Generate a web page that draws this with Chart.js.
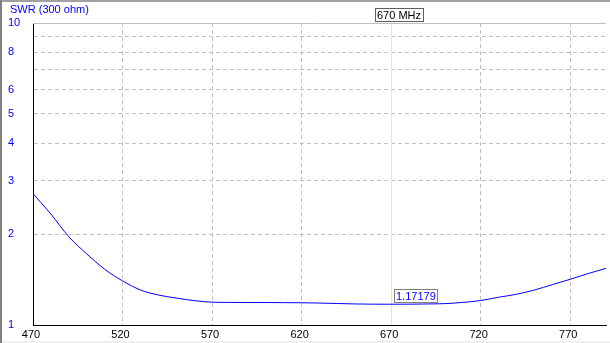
<!DOCTYPE html>
<html>
<head>
<meta charset="utf-8">
<script src="https://cdn.jsdelivr.net/npm/chart.js@4.4.0/dist/chart.umd.min.js"></script>
<style>
    html, body { margin: 0; padding: 0; background: #fff; }
    canvas { display: block; }
</style>
</head>
<body>
<canvas id="swrChart" width="610" height="343"></canvas>
<script>
// frequency sweep (MHz) and measured SWR
const freqs = [470, 480, 490, 500, 510, 520, 530, 540, 550, 560, 570, 580, 590, 600, 610, 620,
    630, 640, 650, 660, 670, 680, 690, 700, 710, 720, 730, 740, 750, 760, 770, 780, 790];
const swr = [2.72, 2.33, 1.96, 1.72, 1.53, 1.40, 1.306, 1.257, 1.228, 1.204, 1.190, 1.188, 1.187, 1.187, 1.186, 1.185,
    1.182, 1.178, 1.174, 1.172, 1.1718, 1.172, 1.174, 1.177, 1.188, 1.205, 1.236, 1.264, 1.306, 1.36, 1.417, 1.48, 1.54];

const xTicks = [470, 520, 570, 620, 670, 720, 770];
const yGrid = [1, 2, 3, 4, 5, 6, 7, 8, 9, 10];
const yLabels = [1, 2, 3, 4, 5, 6, 8, 10];

const markerFreq = 670;
const markerSwr = 1.17179;
const markerFreqText = '670 MHz';
const markerSwrText = '1.17179';
const titleText = 'SWR (300 ohm)';

const FONT = '11px "Liberation Sans", Arial, sans-serif';

// frame, title and marker drawn on top of the library scales
const framePlugin = {
    id: 'frame',
    beforeDraw(chart) {
        const { ctx, width, height } = chart;
        ctx.save();
        ctx.fillStyle = '#ffffff';
        ctx.fillRect(0, 0, width, height);
        ctx.restore();
    },
    beforeDatasetsDraw(chart) {
        const { ctx, chartArea } = chart;
        const x = Math.round(chart.scales.x.getPixelForValue(markerFreq)) + 0.5;
        ctx.save();
        // solid top line of plot
        ctx.strokeStyle = '#c0c0c0';
        ctx.lineWidth = 1;
        ctx.beginPath();
        ctx.moveTo(chartArea.left, Math.round(chartArea.top) + 0.5);
        ctx.lineTo(chartArea.right, Math.round(chartArea.top) + 0.5);
        ctx.stroke();
        // marker line
        ctx.strokeStyle = '#ffff00';
        ctx.beginPath();
        ctx.moveTo(x, chartArea.top + 1);
        ctx.lineTo(x, chartArea.bottom);
        ctx.stroke();
        ctx.restore();
    },
    afterDraw(chart) {
        const { ctx, width, height } = chart;
        const mx = Math.round(chart.scales.x.getPixelForValue(markerFreq));
        const my = Math.round(chart.scales.y.getPixelForValue(markerSwr));
        ctx.save();
        ctx.font = FONT;
        ctx.textBaseline = 'middle';

        // title
        ctx.fillStyle = '#0000ff';
        ctx.fillText(titleText, 10, 10);

        // marker frequency box
        let w = Math.ceil(ctx.measureText(markerFreqText).width) + 3;
        let bx = mx - 15.5, by = 8.5;
        ctx.fillStyle = '#ffffff';
        ctx.fillRect(bx, by, w, 13);
        ctx.strokeStyle = '#606060';
        ctx.lineWidth = 1;
        ctx.strokeRect(bx, by, w, 13);
        ctx.fillStyle = '#000000';
        ctx.fillText(markerFreqText, bx + 1.5, by + 7);

        // marker value box
        w = Math.ceil(ctx.measureText(markerSwrText).width) + 3;
        bx = mx + 3.5;
        by = my - 14.5;
        ctx.fillStyle = '#ffffff';
        ctx.fillRect(bx, by, w, 13);
        ctx.strokeStyle = '#808080';
        ctx.strokeRect(bx, by, w, 13);
        ctx.fillStyle = '#0000ff';
        ctx.fillText(markerSwrText, bx + 1.5, by + 7);

        // window edges
        ctx.fillStyle = '#a0a0a0';
        ctx.fillRect(0, 0, width, 2);
        ctx.fillStyle = '#808080';
        ctx.fillRect(0, 0, 2, height);
        ctx.fillStyle = '#f0f0f0';
        ctx.fillRect(2, height - 2, width - 2, 2);
        ctx.restore();
    }
};

const ctx = document.getElementById('swrChart').getContext('2d');

const swrChart = new Chart(ctx, {
    type: 'line',
    data: {
        datasets: [{
            label: 'SWR',
            data: freqs.map((f, i) => ({ x: f, y: swr[i] })),
            borderColor: '#0000ff',
            borderWidth: 1,
            pointRadius: 0,
            cubicInterpolationMode: 'monotone',
            fill: false
        }]
    },
    options: {
        responsive: false,
        animation: false,
        layout: {
            padding: { left: 8, top: 23, right: 4, bottom: 0 }
        },
        plugins: {
            legend: { display: false },
            tooltip: { enabled: false },
            title: { display: false }
        },
        scales: {
            x: {
                type: 'linear',
                min: 470,
                max: 790,
                afterBuildTicks: (scale) => {
                    scale.ticks = xTicks.map(v => ({ value: v }));
                },
                afterFit: (scale) => { scale.height = 18; },
                ticks: {
                    color: '#000000',
                    font: { family: '"Liberation Sans", Arial, sans-serif', size: 11 },
                    padding: 3,
                    labelOffset: -2,
                    maxRotation: 0,
                    autoSkip: false
                },
                grid: {
                    color: '#c0c0c0',
                    drawTicks: false,
                    lineWidth: 1
                },
                border: {
                    display: true,
                    color: '#000000',
                    width: 1,
                    dash: [4, 3]
                }
            },
            y: {
                type: 'logarithmic',
                min: 1,
                max: 10,
                afterBuildTicks: (scale) => {
                    scale.ticks = yGrid.map(v => ({ value: v }));
                },
                afterFit: (scale) => { scale.width = 25; },
                ticks: {
                    color: '#0000ff',
                    font: { family: '"Liberation Sans", Arial, sans-serif', size: 11 },
                    crossAlign: 'far',
                    padding: 0,
                    autoSkip: false,
                    callback: (v) => yLabels.includes(v) ? String(v) : ''
                },
                grid: {
                    color: '#c0c0c0',
                    drawTicks: false,
                    lineWidth: 1
                },
                border: {
                    display: true,
                    color: '#000000',
                    width: 1,
                    dash: [4, 3]
                }
            }
        }
    },
    plugins: [framePlugin]
});
</script>
</body>
</html>
